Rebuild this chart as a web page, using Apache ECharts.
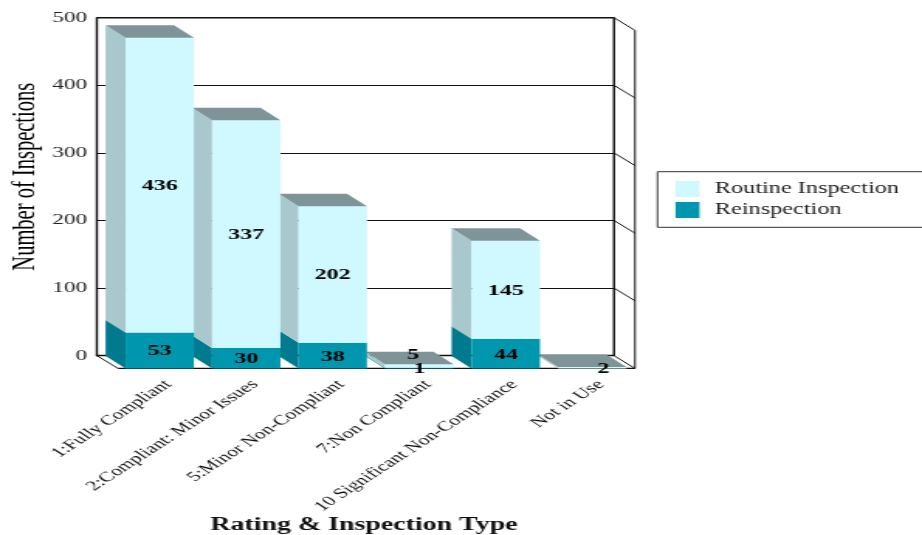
<!DOCTYPE html>
<html>
<head>
<meta charset="utf-8">
<style>
  html, body { margin: 0; padding: 0; width: 922px; height: 535px; overflow: hidden; background: #fff; }
  /* The chart is laid out narrower and widened as a whole, which gives the broad lettering */
  #chart { width: 595px; height: 535px; transform: scaleX(1.5496); transform-origin: 0 0; }
</style>
<script src="https://cdn.jsdelivr.net/npm/echarts@6/dist/echarts.min.js"></script>
</head>
<body>
<div id="chart"></div>
<script>
const categories = ['1:Fully Compliant', '2:Compliant: Minor Issues', '5:Minor Non-Compliant',
  '7:Non Compliant', '10 Significant Non-Compliance', 'Not in Use'];
const routineInspection = [436, 337, 202, 5, 145, 2];
const reinspection = [53, 30, 38, 1, 44, 0];
const yTicks = [0, 100, 200, 300, 400, 500];
const routineName = 'Routine Inspection';
const reinspectionName = 'Reinspection';

const WIDEN = 922 / 595;
const px = v => v / WIDEN;            // page x distance to layout x distance
const SERIF = '"Liberation Serif", serif';
const DEPTH_X = px(20);
const DEPTH_Y = 12.5;
const WALL_X = px(21);
const WALL_Y = 12.7;
const BAR_SHARE = 0.79;

const palette = {
  routine:     { front: '#cff8ff', side: '#a8c8cd' },
  reinspection:{ front: '#0097ae', side: '#007a8e' },
  top: '#7e9498',
  line: '#111'
};

// A few small segments have their value lifted clear of the bar
const routineLabelNudge = { 3: [-px(6), -12], 5: [px(11), 0] };

function quad(points, fill, z2) {
  return { type: 'polygon', z2, shape: { points }, style: { fill, stroke: null }, silent: true };
}

// One stacked segment: left side, front and (for the upper segment) the lid
function segmentRenderer(values, bases, colors, withTop, nudges) {
  return function (params, api) {
    const i = api.value(0);
    const v = values[i];
    if (!v) return { type: 'group', children: [] };
    const band = api.size([1, 0])[0];
    const w = band * BAR_SHARE;
    const cx = api.coord([i, 0])[0];
    const x0 = cx - w / 2;
    const x1 = cx + w / 2;
    const yb = api.coord([i, bases[i]])[1];
    const yt = api.coord([i, bases[i] + v])[1];
    const z = (categories.length - i) * 10;
    const children = [
      quad([[x0, yb], [x0, yt], [x0 - DEPTH_X, yt - DEPTH_Y], [x0 - DEPTH_X, yb - DEPTH_Y]], colors.side, z),
      quad([[x0, yb], [x0, yt], [x1, yt], [x1, yb]], colors.front, z + 1)
    ];
    if (withTop) {
      children.push(quad([[x0, yt], [x1, yt], [x1 - DEPTH_X, yt - DEPTH_Y], [x0 - DEPTH_X, yt - DEPTH_Y]], palette.top, z + 2));
    }
    const nudge = (nudges && nudges[i]) || [0, 0];
    children.push({
      type: 'text', z2: 1000, silent: true,
      x: cx + nudge[0], y: (yb + yt) / 2 + nudge[1] + 1,
      style: { text: String(v), fill: '#000', font: 'bold 15.5px ' + SERIF, align: 'center', verticalAlign: 'middle' }
    });
    return { type: 'group', children };
  };
}

// Box edges and the wall lines that run out to the front plane
function frameRenderer(params, api) {
  const cs = params.coordSys;
  const tick = api.value(1);
  const y = api.coord([0, tick])[1];
  const right = cs.x + cs.width;
  const line = (x1, y1, x2, y2, lineWidth) => ({
    type: 'line', silent: true,
    shape: { x1, y1, x2, y2 },
    style: { stroke: palette.line, lineWidth }
  });
  const children = [line(right, y, right + WALL_X, y + WALL_Y, 1)];
  if (tick === yTicks[yTicks.length - 1]) {
    children.push(line(cs.x, y, right, y, 1.4));
    children.push(line(right, y, right, cs.y + cs.height, 1.4));
    children.push(line(right + WALL_X, y + WALL_Y, right + WALL_X, cs.y + cs.height + WALL_Y, 1));
  }
  if (tick === yTicks[0]) {
    children.push(line(cs.x, y, cs.x + WALL_X, y + WALL_Y, 1));
    children.push(line(cs.x + WALL_X, y + WALL_Y, right + WALL_X, y + WALL_Y, 1.4));
  }
  return { type: 'group', children };
}

const idx = categories.map((_, i) => i);
const chart = echarts.init(document.getElementById('chart'));

chart.setOption({
  animation: false,
  backgroundColor: '#fff',
  grid: [
    { left: px(97), width: px(517), top: 17.7, height: 338, outerBoundsMode: 'none' },   // back wall
    { left: px(116.5), width: px(519), top: 30.4, height: 338, outerBoundsMode: 'none' },  // front plane, carries the bars
    { left: px(125), width: px(519), top: 30.4, height: 338, outerBoundsMode: 'none' }   // category labels sit a little right of the bars
  ],
  xAxis: [
    { type: 'category', gridIndex: 0, data: categories, axisTick: { show: false }, axisLabel: { show: false },
      axisLine: { lineStyle: { color: palette.line, width: 1.4 } } },
    { type: 'category', gridIndex: 1, data: categories, show: false },
    { type: 'category', gridIndex: 2, data: categories,
      axisLine: { show: false }, axisTick: { show: false },
      axisLabel: { interval: 0, rotate: 45, margin: 14, fontFamily: SERIF, fontSize: 14, color: '#111' },
      name: 'Rating & Inspection Type', nameLocation: 'middle', nameGap: 148, nameMoveOverlap: false,
      nameTextStyle: { fontFamily: SERIF, fontWeight: 'bold', fontSize: 18, color: '#111', padding: [0, 26.5, 0, 0] } }
  ],
  yAxis: [
    { type: 'value', gridIndex: 0, min: 0, max: 500, interval: 100,
      axisLine: { show: true, lineStyle: { color: palette.line, width: 1.4 } },
      axisTick: { show: false },
      splitLine: { show: true, lineStyle: { color: palette.line, width: 1 } },
      axisLabel: { margin: px(10), fontFamily: SERIF, fontSize: 15, color: '#222', padding: [4, 0, 0, 0],
        formatter: v => (yTicks.includes(v) ? String(v) : '') },
      name: 'Number of Inspections', nameLocation: 'middle', nameGap: 35, nameRotate: 90, nameMoveOverlap: false,
      nameTextStyle: { fontFamily: SERIF, fontSize: 20.5, color: '#000', padding: [0, 0, 0, 20] } },
    { type: 'value', gridIndex: 1, min: 0, max: 500, interval: 100, show: false },
    { type: 'value', gridIndex: 2, min: 0, max: 500, interval: 100, show: false }
  ],
  legend: {
    orient: 'vertical', left: px(657.5), top: 171.7,
    padding: [9.3, 60, 9.3, px(18)],
    itemWidth: px(24), itemHeight: 16, itemGap: 5,
    borderColor: '#333', borderWidth: 1,
    selectedMode: false,
    textStyle: { fontFamily: SERIF, fontSize: 15.7, color: '#222', padding: [4, 0, 0, px(7.5)] },
    data: [
      { name: routineName, icon: 'rect', itemStyle: { color: palette.routine.front } },
      { name: reinspectionName, icon: 'rect', itemStyle: { color: palette.reinspection.front } }
    ]
  },
  series: [
    { type: 'custom', name: 'frame', xAxisIndex: 0, yAxisIndex: 0, z: 1, silent: true,
      data: yTicks.map(t => [0, t]), renderItem: frameRenderer },
    { type: 'custom', name: reinspectionName, xAxisIndex: 1, yAxisIndex: 1, z: 2, silent: true,
      data: idx.map(i => [i, reinspection[i]]),
      itemStyle: { color: palette.reinspection.front },
      renderItem: segmentRenderer(reinspection, reinspection.map(() => 0), palette.reinspection, false, null) },
    { type: 'custom', name: routineName, xAxisIndex: 1, yAxisIndex: 1, z: 2, silent: true,
      data: idx.map(i => [i, routineInspection[i]]),
      itemStyle: { color: palette.routine.front },
      renderItem: segmentRenderer(routineInspection, reinspection, palette.routine, true, routineLabelNudge) }
  ]
});
</script>
</body>
</html>
